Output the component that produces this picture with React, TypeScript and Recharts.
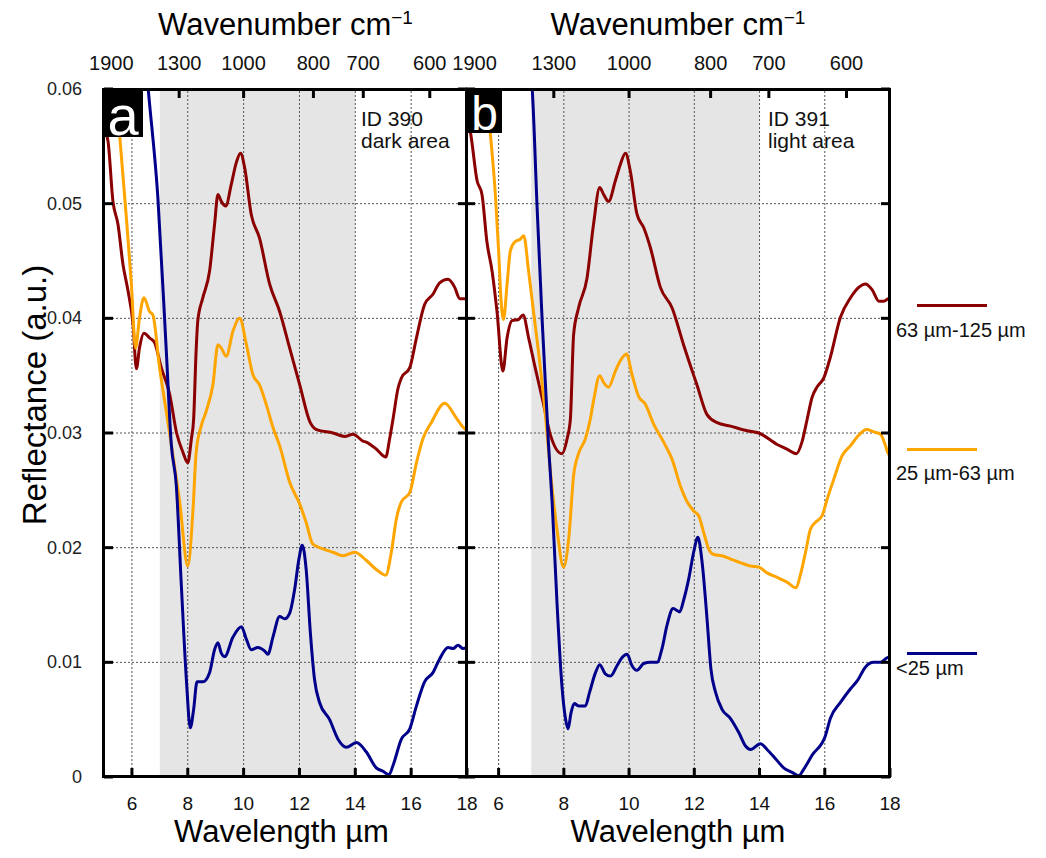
import React from "react";
import { LineChart, Line, XAxis, YAxis, ReferenceArea, ReferenceLine } from "recharts";

type Pt = [number, number];

// axis ticks
const wavelengthTicks = [6, 8, 10, 12, 14, 16, 18];
const wavenumberTicks = [1900, 1300, 1000, 800, 700, 600];
const reflectanceTicks = [0, 0.01, 0.02, 0.03, 0.04, 0.05, 0.06];
const gridX = [6, 8, 10, 12, 14, 16];
const gridY = [0.01, 0.02, 0.03, 0.04, 0.05];
const shadedBand = [7, 14];

const sizeNames = ["63 µm-125 µm", "25 µm-63 µm", "<25 µm"];
const COLORS = ["#8b0000", "#ffa500", "#00008b"];

// ID 390 dark area
const darkCoarse: Pt[] = [
  [5.0, 0.0565], [5.14, 0.0555], [5.32, 0.0502], [5.5, 0.0482], [5.68, 0.0447], [5.86, 0.0424],
  [6.04, 0.0395], [6.16, 0.0356], [6.27, 0.0374], [6.43, 0.0387], [6.63, 0.0383], [6.81, 0.0379],
  [7.05, 0.0357], [7.35, 0.0334], [7.6, 0.03], [7.83, 0.0283], [8.0, 0.0274], [8.13, 0.0295],
  [8.21, 0.0312], [8.3, 0.0372], [8.36, 0.0398], [8.54, 0.0418], [8.78, 0.0441], [8.96, 0.0482],
  [9.08, 0.0508], [9.2, 0.0502], [9.36, 0.0498], [9.56, 0.0517], [9.74, 0.0536], [9.89, 0.0544],
  [10.04, 0.0531], [10.27, 0.0491], [10.57, 0.047], [10.93, 0.043], [11.29, 0.0406], [11.65, 0.0374],
  [12.01, 0.0342], [12.37, 0.031], [12.61, 0.0303], [13.2, 0.03], [13.62, 0.0297], [13.92, 0.0299],
  [14.27, 0.0293], [14.39, 0.0292], [14.75, 0.0286], [15.09, 0.0279], [15.23, 0.0295], [15.35, 0.0312],
  [15.53, 0.0339], [15.65, 0.0348], [15.95, 0.0357], [16.19, 0.0383], [16.48, 0.0412], [16.78, 0.0421],
  [17.02, 0.0431], [17.32, 0.0434], [17.56, 0.0427], [17.74, 0.0417], [17.92, 0.0417], [18.0, 0.0418],
];
const darkMedium: Pt[] = [
  [5.4, 0.0605], [5.56, 0.056], [5.8, 0.0488], [5.98, 0.043], [6.13, 0.0374], [6.27, 0.04],
  [6.43, 0.0418], [6.63, 0.0406], [6.75, 0.0403], [6.99, 0.0357], [7.23, 0.0319], [7.41, 0.029],
  [7.71, 0.024], [8.0, 0.0184], [8.19, 0.0234], [8.3, 0.0283], [8.48, 0.0306], [8.66, 0.0319],
  [8.9, 0.0342], [9.08, 0.0377], [9.2, 0.0374], [9.38, 0.0367], [9.62, 0.0389], [9.86, 0.04],
  [10.1, 0.0377], [10.33, 0.0351], [10.57, 0.0342], [10.81, 0.0325], [11.05, 0.0305], [11.29, 0.0289],
  [11.65, 0.0257], [12.01, 0.0238], [12.24, 0.0222], [12.48, 0.0203], [12.84, 0.0199], [13.2, 0.0196],
  [13.56, 0.0193], [13.98, 0.0196], [14.39, 0.0189], [14.75, 0.0181], [15.09, 0.0176], [15.29, 0.0196],
  [15.47, 0.0225], [15.65, 0.024], [15.95, 0.0248], [16.19, 0.0274], [16.42, 0.0295], [16.72, 0.0309],
  [17.2, 0.0326], [17.62, 0.0313], [17.86, 0.0305], [18.0, 0.0302],
];
const darkFine: Pt[] = [
  [6.5, 0.0625], [6.57, 0.0604], [6.93, 0.0505], [7.23, 0.0372], [7.41, 0.029], [7.59, 0.0254],
  [7.77, 0.0167], [7.95, 0.0085], [8.09, 0.0043], [8.21, 0.0059], [8.33, 0.0083], [8.54, 0.0083],
  [8.78, 0.0091], [8.96, 0.0111], [9.08, 0.0117], [9.2, 0.0108], [9.32, 0.0105], [9.62, 0.0122],
  [9.92, 0.0131], [10.1, 0.012], [10.27, 0.0111], [10.51, 0.0113], [10.75, 0.011], [10.87, 0.0107],
  [11.05, 0.0122], [11.29, 0.014], [11.47, 0.0138], [11.65, 0.0143], [11.83, 0.0164], [11.98, 0.019],
  [12.1, 0.0202], [12.24, 0.0181], [12.39, 0.0126], [12.54, 0.0085], [12.72, 0.0065], [13.08, 0.005],
  [13.38, 0.0033], [13.68, 0.0026], [14.04, 0.003], [14.39, 0.0022], [14.75, 0.0008], [14.99, 0.0005],
  [15.21, 0.0002], [15.35, 0.001], [15.65, 0.0033], [15.95, 0.0042], [16.19, 0.0062], [16.48, 0.0083],
  [16.78, 0.0091], [17.02, 0.0103], [17.32, 0.0113], [17.5, 0.0112], [17.68, 0.0115], [17.86, 0.0112],
  [18.0, 0.0113],
];

// ID 391 light area
const lightCoarse: Pt[] = [
  [5.0, 0.0575], [5.13, 0.0563], [5.34, 0.052], [5.49, 0.0508], [5.64, 0.0467], [5.8, 0.0441],
  [5.95, 0.0406], [6.13, 0.0354], [6.26, 0.0383], [6.41, 0.0398], [6.61, 0.0399], [6.75, 0.0403],
  [6.92, 0.0383], [7.12, 0.0357], [7.38, 0.0325], [7.58, 0.0299], [7.94, 0.0282], [8.1, 0.0295],
  [8.2, 0.0312], [8.3, 0.0386], [8.45, 0.0409], [8.71, 0.0435], [8.91, 0.0482], [9.1, 0.0514],
  [9.22, 0.0508], [9.37, 0.0502], [9.58, 0.052], [9.73, 0.0534], [9.89, 0.0544], [10.04, 0.0528],
  [10.24, 0.0491], [10.45, 0.0479], [10.65, 0.0462], [10.96, 0.0427], [11.32, 0.0409], [11.67, 0.0377],
  [12.08, 0.0342], [12.39, 0.0316], [12.7, 0.0309], [13.11, 0.0306], [13.62, 0.0302], [13.98, 0.03],
  [14.54, 0.029], [14.84, 0.0286], [15.13, 0.0282], [15.3, 0.0292], [15.46, 0.0312], [15.61, 0.0331],
  [15.76, 0.034], [15.97, 0.0348], [16.17, 0.0366], [16.48, 0.0401], [16.79, 0.0418], [17.04, 0.0427],
  [17.25, 0.043], [17.45, 0.0425], [17.66, 0.0415], [17.81, 0.0415], [17.96, 0.0417], [18.0, 0.0417],
];
const lightMedium: Pt[] = [
  [5.6, 0.0605], [5.74, 0.0563], [5.9, 0.0508], [6.0, 0.0459], [6.07, 0.0418], [6.15, 0.0399],
  [6.26, 0.043], [6.36, 0.0459], [6.51, 0.0467], [6.66, 0.0469], [6.77, 0.0472], [6.92, 0.0441],
  [7.07, 0.0406], [7.28, 0.0357], [7.43, 0.0317], [7.58, 0.0269], [7.79, 0.0216], [7.99, 0.0183],
  [8.15, 0.0208], [8.3, 0.0263], [8.45, 0.0282], [8.66, 0.0295], [8.81, 0.0312], [8.91, 0.0328],
  [9.1, 0.035], [9.22, 0.0344], [9.37, 0.034], [9.58, 0.0354], [9.73, 0.0363], [9.92, 0.0369],
  [10.09, 0.0351], [10.29, 0.0332], [10.5, 0.0325], [10.75, 0.0308], [11.06, 0.0292], [11.32, 0.0277],
  [11.57, 0.0254], [11.78, 0.024], [11.98, 0.0232], [12.13, 0.0228], [12.29, 0.0213], [12.44, 0.0199],
  [12.6, 0.0194], [12.85, 0.0193], [13.11, 0.019], [13.41, 0.0187], [13.72, 0.0184], [13.98, 0.0183],
  [14.23, 0.0178], [14.54, 0.0174], [14.84, 0.017], [15.12, 0.0165], [15.25, 0.0176], [15.41, 0.0196],
  [15.56, 0.0216], [15.71, 0.0222], [15.92, 0.0228], [16.07, 0.0242], [16.28, 0.026], [16.53, 0.028],
  [16.79, 0.0289], [17.04, 0.0298], [17.28, 0.0303], [17.5, 0.0301], [17.71, 0.0299], [17.86, 0.0289],
  [17.93, 0.0283], [18.0, 0.028],
];
const lightFine: Pt[] = [
  [6.98, 0.0615], [7.02, 0.0604], [7.18, 0.0497], [7.33, 0.0401], [7.53, 0.029], [7.64, 0.024],
  [7.79, 0.0152], [7.94, 0.008], [8.05, 0.0051], [8.13, 0.0042], [8.22, 0.0056], [8.32, 0.0064],
  [8.45, 0.0062], [8.66, 0.0062], [8.79, 0.0074], [8.97, 0.0091], [9.1, 0.0098], [9.27, 0.009],
  [9.43, 0.0088], [9.63, 0.0097], [9.78, 0.0104], [9.94, 0.0107], [10.09, 0.0097], [10.24, 0.0093],
  [10.45, 0.0099], [10.65, 0.01], [10.86, 0.01], [11.01, 0.0112], [11.16, 0.0132], [11.35, 0.0147],
  [11.55, 0.0144], [11.68, 0.0155], [11.83, 0.0173], [11.98, 0.0196], [12.11, 0.0209], [12.24, 0.0187],
  [12.39, 0.0138], [12.51, 0.0094], [12.65, 0.0074], [12.85, 0.0059], [13.11, 0.0051], [13.36, 0.0039],
  [13.57, 0.0027], [13.72, 0.0024], [14.03, 0.0029], [14.23, 0.0024], [14.49, 0.0016], [14.74, 0.0008],
  [15.0, 0.0004], [15.2, 0.0001], [15.36, 0.0007], [15.61, 0.0019], [16.02, 0.0036], [16.17, 0.0051],
  [16.48, 0.0065], [16.79, 0.0077], [17.0, 0.0084], [17.25, 0.0096], [17.5, 0.01], [17.71, 0.01],
  [17.91, 0.0104], [18.0, 0.0105],
];

const FONT = "'Liberation Sans', Arial, Helvetica, sans-serif";
const H = 858;
const TOP = 89;
const BOTTOM = 777;
const TICK = 9;

type PanelProps = {
  left: number;
  width: number;
  plotLeft: number;
  plotRight: number;
  yLabels: boolean;
  series: Pt[][];
};

function Panel({ left, width, plotLeft, plotRight, yLabels, series }: PanelProps) {
  const wl = yLabels ? 60 : 4;
  const wr = 4;
  const margin = {
    top: TOP - 40,
    bottom: H - BOTTOM - 40,
    left: plotLeft - left - wl,
    right: left + width - plotRight - wr,
  };
  // inward ticks drawn by hand (gnuplot style)
  const pl = plotLeft - left;
  const pr = plotRight - left;
  const bottomTick = (p: any) => (
    <g>
      <line x1={p.x} x2={p.x} y1={BOTTOM} y2={BOTTOM - TICK} stroke="#000" strokeWidth={3} />
      <text x={p.x} y={810} textAnchor="middle" fontSize={19} fontFamily={FONT} fill="#111">
        {p.payload.value}
      </text>
    </g>
  );
  const topTick = (p: any) => (
    <g>
      <line x1={p.x} x2={p.x} y1={TOP} y2={TOP + TICK} stroke="#000" strokeWidth={3} />
      <text x={p.x} y={70} textAnchor="middle" fontSize={20} fontFamily={FONT} fill="#111">
        {Math.round(10000 / p.payload.value)}
      </text>
    </g>
  );
  const leftTick = (p: any) => (
    <g>
      <line x1={pl} x2={pl + TICK} y1={p.y} y2={p.y} stroke="#000" strokeWidth={3} />
      {yLabels && (
        <text x={pl - 22} y={p.y + 6} textAnchor="end" fontSize={18} fontFamily={FONT} fill="#222">
          {p.payload.value}
        </text>
      )}
    </g>
  );
  const rightTick = (p: any) => (
    <line x1={pr - TICK} x2={pr} y1={p.y} y2={p.y} stroke="#000" strokeWidth={3} />
  );
  return (
    <div style={{ position: "absolute", left, top: 0 }}>
      <LineChart width={width} height={H} margin={margin}>
        <XAxis
          xAxisId="b"
          type="number"
          dataKey="x"
          domain={[5, 18]}
          allowDataOverflow
          ticks={wavelengthTicks}
          interval={0}
          height={40}
          axisLine={false}
          tickLine={false}
          tick={bottomTick}
        />
        <XAxis
          xAxisId="t"
          orientation="top"
          type="number"
          dataKey="x"
          domain={[5, 18]}
          allowDataOverflow
          ticks={wavenumberTicks.map((w) => 10000 / w)}
          interval={0}
          height={40}
          axisLine={false}
          tickLine={false}
          tick={topTick}
        />
        <YAxis
          yAxisId="l"
          domain={[0, 0.06]}
          allowDataOverflow
          ticks={reflectanceTicks}
          interval={0}
          width={wl}
          axisLine={false}
          tickLine={false}
          tick={leftTick}
        />
        <YAxis
          yAxisId="r"
          orientation="right"
          domain={[0, 0.06]}
          allowDataOverflow
          ticks={reflectanceTicks}
          interval={0}
          width={wr}
          axisLine={false}
          tickLine={false}
          tick={rightTick}
        />
        <ReferenceArea
          xAxisId="b"
          yAxisId="l"
          x1={shadedBand[0]}
          x2={shadedBand[1]}
          y1={0}
          y2={0.06}
          fill="#e5e5e5"
          fillOpacity={1}
          stroke="none"
        />
        {gridX.map((g) => (
          <ReferenceLine key={"x" + g} xAxisId="b" yAxisId="l" x={g} stroke="#555" strokeDasharray="2 2" />
        ))}
        {gridY.map((g) => (
          <ReferenceLine key={"y" + g} xAxisId="b" yAxisId="l" y={g} stroke="#555" strokeDasharray="2 2" />
        ))}
        {/* invisible carrier so the top and right axes get drawn */}
        <Line
          xAxisId="t"
          yAxisId="r"
          data={[{ x: 5, y: 0 }, { x: 18, y: 0 }]}
          dataKey="y"
          stroke="none"
          dot={false}
          legendType="none"
          isAnimationActive={false}
        />
        {series.map((s, i) => (
          <Line
            key={i}
            xAxisId="b"
            yAxisId="l"
            data={s.map(([x, y]) => ({ x, y }))}
            dataKey="y"
            type="monotone"
            stroke={COLORS[i]}
            strokeWidth={3}
            dot={false}
            isAnimationActive={false}
          />
        ))}
      </LineChart>
    </div>
  );
}

const abs = (s: React.CSSProperties): React.CSSProperties => ({ position: "absolute", fontFamily: FONT, ...s });

export default function App() {
  const legendY = [
    { line: 304, text: 330, lineLeft: 917 },
    { line: 448, text: 473, lineLeft: 907 },
    { line: 652, text: 668, lineLeft: 907 },
  ];
  return (
    <div style={{ position: "absolute", left: 0, top: 0, width: 1046, height: 858, background: "#fff" }}>
      <Panel left={0} width={480} plotLeft={104} plotRight={467} yLabels series={[darkCoarse, darkMedium, darkFine]} />
      <Panel left={440} width={460} plotLeft={466} plotRight={890} yLabels={false} series={[lightCoarse, lightMedium, lightFine]} />

      {/* frames */}
      <div style={abs({ left: 102, top: 88, width: 366, height: 690, border: "3px solid #000", boxSizing: "border-box" })} />
      <div style={abs({ left: 465, top: 88, width: 426, height: 690, border: "3px solid #000", boxSizing: "border-box" })} />

      {/* panel letters */}
      <div style={abs({ left: 103, top: 89, width: 40, height: 48, background: "#000" })} />
      <div style={abs({ left: 103, top: 89, width: 40, fontSize: 56, lineHeight: "53px", color: "#fff", textAlign: "center" })}>a</div>
      <div style={abs({ left: 467, top: 89, width: 35, height: 44, background: "#000" })} />
      <div style={abs({ left: 467, top: 89, width: 35, fontSize: 48, lineHeight: "49px", color: "#fff", textAlign: "center" })}>b</div>

      <div style={abs({ left: 361, top: 108, fontSize: 21, lineHeight: "22px", color: "#111" })}>
        ID 390<br />dark area
      </div>
      <div style={abs({ left: 768, top: 108, fontSize: 21, lineHeight: "22px", color: "#111" })}>
        ID 391<br />light area
      </div>

      {/* axis titles */}
      <div style={abs({ left: 104, width: 363, top: 0, textAlign: "center", fontSize: 31, lineHeight: "36px" })}>
        Wavenumber cm<sup style={{ fontSize: 19 }}>−1</sup>
      </div>
      <div style={abs({ left: 466, width: 424, top: 0, textAlign: "center", fontSize: 31, lineHeight: "36px" })}>
        Wavenumber cm<sup style={{ fontSize: 19 }}>−1</sup>
      </div>
      <div style={abs({ left: 100, width: 363, top: 814, textAlign: "center", fontSize: 31, lineHeight: "36px" })}>
        Wavelength µm
      </div>
      <div style={abs({ left: 466, width: 424, top: 814, textAlign: "center", fontSize: 31, lineHeight: "36px" })}>
        Wavelength µm
      </div>
      <div style={abs({ left: 35 - 160, top: 395 - 19, width: 320, textAlign: "center", fontSize: 33, lineHeight: "38px", transform: "rotate(-90deg)" })}>
        Reflectance (a.u.)
      </div>

      {/* legend */}
      {sizeNames.map((name, i) => (
        <React.Fragment key={name}>
          <div style={abs({ left: legendY[i].lineLeft, top: legendY[i].line, width: 70, height: 3, background: COLORS[i] })} />
          <div style={abs({ left: 896, top: legendY[i].text - 11, fontSize: 20, lineHeight: "22px", color: "#111", whiteSpace: "nowrap" })}>
            {name}
          </div>
        </React.Fragment>
      ))}
    </div>
  );
}
